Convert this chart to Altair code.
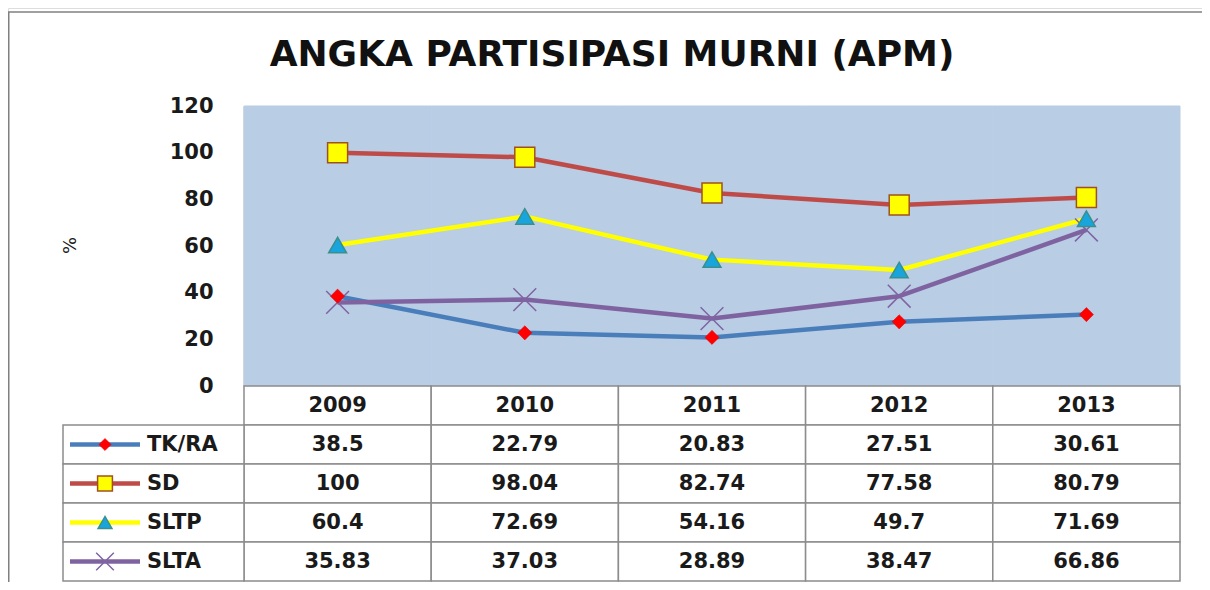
import altair as alt
import pandas as pd

# ---------------- data ----------------
title_text = "ANGKA PARTISIPASI MURNI (APM)"
years = ["2009", "2010", "2011", "2012", "2013"]
series = ["TK/RA", "SD", "SLTP", "SLTA"]
tk_ra = [38.5, 22.79, 20.83, 27.51, 30.61]
sd = [100, 98.04, 82.74, 77.58, 80.79]
sltp = [60.4, 72.69, 54.16, 49.7, 71.69]
slta = [35.83, 37.03, 28.89, 38.47, 66.86]
y_ticks = [0, 20, 40, 60, 80, 100, 120]
y_title = "%"

values = [tk_ra, sd, sltp, slta]

# ---------------- styles / layout ----------------
FONT = "DejaVu Sans"
TXT = "#1a1a1a"
GRID = "#8C8C8C"
BG = "#B9CDE5"
line_colors = ["#4A7EBB", "#BE4B48", "#FFFF00", "#7F63A1"]
X_PATH = "M-1,-1L1,1M1,-1L-1,1"
marker_styles = [
    dict(shape="diamond", filled=True, fill="#FF0000", stroke="#E00000", size=200, strokeWidth=0.5),
    dict(shape="square", filled=True, fill="#FFFF00", stroke="#A0521E", size=400, strokeWidth=1.5),
    dict(shape="triangle-up", filled=True, fill="#18A4DC", stroke="#3A8F8F", size=320, strokeWidth=1.5),
    dict(shape=X_PATH, filled=False, stroke="#8064A2", size=520, strokeWidth=1.5),
]
legend_marker_scale = [0.75, 0.55, 0.6, 0.6]

W, H = 1194, 574
PLOT_L, PLOT_R = 236, 1172
PLOT_T, PLOT_B = 98, 378
TABLE_B = 573
LEG_L = 55

xs = alt.Scale(type="band", domain=years, range=[PLOT_L, PLOT_R], paddingInner=0, paddingOuter=0)
yq = alt.Scale(domain=[y_ticks[0], y_ticks[-1]], range=[PLOT_B, PLOT_T], nice=False, zero=False)
row_domain = [""] + series
yb = alt.Scale(type="band", domain=row_domain, range=[PLOT_B, TABLE_B], paddingInner=0, paddingOuter=0)
color_scale = alt.Scale(domain=series, range=line_colors)

# ---------------- tables ----------------
long_rows = []
for s, vals in zip(series, values):
    for yr, v in zip(years, vals):
        long_rows.append({"series": s, "year": yr, "value": v})
long_df = pd.DataFrame(long_rows)

table_rows = [{"row": "", "year": yr, "label": yr} for yr in years]
for s, vals in zip(series, values):
    for yr, v in zip(years, vals):
        table_rows.append({"row": s, "year": yr, "label": f"{v:g}"})
table_df = pd.DataFrame(table_rows)

legend_df = pd.DataFrame({"series": series, "row": series})
years_df = pd.DataFrame({"year": years})

x_band = alt.X("year:N", scale=xs, axis=None)
x_center = alt.X("year:N", scale=xs, axis=None, bandPosition=0.5)
y_row = alt.Y("row:N", scale=yb, axis=None)
y_row_c = alt.Y("row:N", scale=yb, axis=None, bandPosition=0.5)

# plot background + y axis
bg = alt.Chart(years_df).mark_rect(fill=BG, stroke=BG, strokeWidth=1).encode(
    x=x_band,
    y=alt.YDatum(datum=y_ticks[0], type="quantitative", scale=yq, axis=alt.Axis(
        values=y_ticks, offset=-PLOT_L, labelPadding=31, ticks=False, grid=False,
        domainColor=GRID, domainWidth=1.5,
        labelFont=FONT, labelFontSize=21, labelFontWeight="bold", labelColor=TXT,
        title=y_title, titleFont=FONT, titleFontSize=18, titleFontWeight="normal",
        titleColor=TXT, titleX=-174, titleY=237, titleAngle=-90,
        titleAlign="center", titleBaseline="middle")),
    y2=alt.Y2Datum(datum=y_ticks[-1]),
)

cells = alt.Chart(table_df).mark_rect(fill="white", stroke=GRID, strokeWidth=1.5).encode(
    x=x_band, y=y_row
)
leg_cells = alt.Chart(legend_df).mark_rect(fill="white", stroke=GRID, strokeWidth=1.5).encode(
    x=alt.value(LEG_L), x2=alt.value(PLOT_L), y=y_row
)

lines = alt.Chart(long_df).mark_line(strokeWidth=4.5, strokeJoin="round").encode(
    x=x_center,
    y=alt.Y("value:Q", scale=yq, axis=None),
    color=alt.Color("series:N", scale=color_scale, legend=None),
    detail="series:N",
)

marker_layers = []
for i in [3, 2, 1, 0]:
    s = series[i]
    sub = long_df[long_df["series"] == s]
    marker_layers.append(
        alt.Chart(sub).mark_point(opacity=1, **marker_styles[i]).encode(
            x=x_center, y=alt.Y("value:Q", scale=yq, axis=None)
        )
    )

table_text = alt.Chart(table_df).mark_text(
    font=FONT, fontSize=21, fontWeight="bold", color=TXT, align="center", baseline="middle"
).encode(x=x_center, y=y_row_c, text="label:N")

leg_lines = alt.Chart(legend_df).mark_rule(strokeWidth=4.5).encode(
    x=alt.value(62), x2=alt.value(132), y=y_row_c,
    color=alt.Color("series:N", scale=color_scale, legend=None),
)

leg_markers = []
for i, s in enumerate(series):
    st = dict(marker_styles[i])
    st["size"] = st["size"] * legend_marker_scale[i]
    leg_markers.append(
        alt.Chart(legend_df[legend_df["series"] == s]).mark_point(opacity=1, **st).encode(
            x=alt.value(97), y=y_row_c
        )
    )

leg_text = alt.Chart(legend_df).mark_text(
    font=FONT, fontSize=21, fontWeight="bold", color=TXT, align="left", baseline="middle"
).encode(x=alt.value(139), y=y_row_c, text="series:N")

border_top = alt.Chart(years_df.head(1)).mark_rule(color="#808080", strokeWidth=1.5).encode(
    x=alt.value(0), x2=alt.value(W), y=alt.value(4)
)
border_left = alt.Chart(years_df.head(1)).mark_rule(color="#808080", strokeWidth=1.5).encode(
    x=alt.value(0.75), y=alt.value(4), y2=alt.value(H)
)

chart = alt.layer(
    bg, cells, leg_cells, lines, *marker_layers, table_text, leg_lines, *leg_markers,
    leg_text, border_top, border_left
).resolve_scale(y="independent").properties(
    width=W, height=H,
    autosize=alt.AutoSizeParams(type="none"),
    padding=0,
    title=alt.Title(title_text, font=FONT, fontSize=36, fontWeight="bold", color="#111111",
                    anchor="middle", dx=7, dy=70),
).configure_view(stroke=None).configure(background="white")

chart.save("out.html", embed_options={"renderer": "svg", "actions": False})
